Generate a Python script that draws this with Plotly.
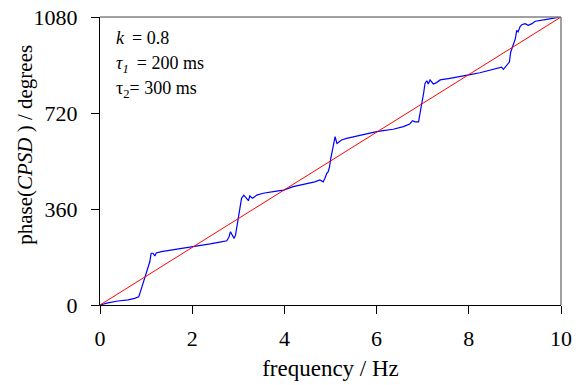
import plotly.graph_objects as go

freq = [0, 0.17, 0.39, 0.61, 0.75, 0.84, 0.86, 0.90, 0.93, 0.97, 1.0, 1.04, 1.08, 1.11, 1.15, 1.19, 1.22, 1.33, 1.55, 1.76, 1.98,
        2.17, 2.39, 2.60, 2.75, 2.80, 2.83, 2.87, 2.91, 2.94, 2.98, 3.0, 3.04, 3.07, 3.12, 3.17, 3.22, 3.25, 3.31, 3.40, 3.54, 3.76, 3.98,
        4.19, 4.48, 4.66, 4.77, 4.84, 4.88, 4.92, 4.95, 4.98, 5.0, 5.03, 5.06, 5.10, 5.14, 5.19, 5.24, 5.35, 5.50, 5.71, 6.0,
        6.14, 6.36, 6.58, 6.72, 6.78, 6.83, 6.91, 6.94, 6.98, 7.02, 7.05, 7.09, 7.12, 7.16, 7.23, 7.30, 7.38, 7.59, 7.81, 8.03,
        8.24, 8.46, 8.60, 8.71, 8.75, 8.82, 8.88, 8.91, 8.96, 9.01, 9.04, 9.07, 9.11, 9.15, 9.22, 9.29, 9.37, 9.44, 9.69, 9.98, 10.0]
phase = [0, 8, 15, 19, 25, 31, 41, 62, 81, 100, 119, 144, 162, 194, 194, 184, 195, 200, 206, 210, 216,
         221, 229, 236, 241, 256, 275, 262, 250, 262, 306, 337, 369, 400, 412, 400, 391, 409, 400, 412, 419, 425, 431,
         444, 454, 462, 469, 462, 475, 494, 500, 519, 544, 569, 594, 631, 606, 612, 619, 625, 631, 640, 650,
         654, 659, 669, 679, 691, 687, 687, 712, 756, 794, 831, 841, 829, 844, 829, 834, 844, 850, 856, 864,
         871, 880, 886, 892, 884, 899, 911, 949, 974, 999, 1030, 1024, 1043, 1051, 1055, 1049, 1055, 1064, 1071, 1077, 1080]

line_freq = [0, 10]
line_phase = [0, 1080]

x_ticks = [0, 2, 4, 6, 8, 10]
y_ticks = [0, 360, 720, 1080]

FONT = "Liberation Serif"

fig = go.Figure()
fig.add_trace(go.Scatter(x=freq, y=phase, mode="lines",
                         line=dict(color="#0000FF", width=1.2), showlegend=False))
fig.add_trace(go.Scatter(x=line_freq, y=line_phase, mode="lines",
                         line=dict(color="#FF0000", width=1), showlegend=False))

fig.update_layout(
    width=582, height=385,
    margin=dict(l=100, r=21, t=17, b=80, autoexpand=False),
    paper_bgcolor="white", plot_bgcolor="white",
    font=dict(family=FONT, size=22, color="black"),
    xaxis=dict(range=[0, 10], tickvals=x_ticks, showgrid=False, zeroline=False,
               showline=True, linecolor="black", linewidth=1,
               ticks="outside", ticklen=8, tickcolor="black",
               ticklabelstandoff=6, automargin=False, ticklabeloverflow="allow",
               tickfont=dict(family=FONT, size=22),
               title=dict(text="frequency / Hz", standoff=9, font=dict(family=FONT, size=23))),
    yaxis=dict(range=[0, 1080], tickvals=y_ticks, showgrid=False, zeroline=False,
               showline=True, linecolor="black", linewidth=1,
               ticks="outside", ticklen=8, tickcolor="black",
               ticklabelstandoff=9, automargin=False, ticklabeloverflow="allow",
               tickfont=dict(family=FONT, size=22)),
    shapes=[
        dict(type="line", xref="paper", yref="paper", x0=0, x1=1, y0=1, y1=1,
             line=dict(color="#808080", width=1.5)),
        dict(type="line", xref="paper", yref="paper", x0=1, x1=1, y0=0, y1=1,
             line=dict(color="#808080", width=1.5)),
    ],
)

# y-axis title placed as a rotated annotation (it sits above the plot centre in the reference)
fig.add_annotation(x=-0.1627, y=0.556, xref="paper", yref="paper",
                   text="phase(<i>CPSD</i> ) / degrees", textangle=-90, showarrow=False,
                   xanchor="center", yanchor="middle", font=dict(family=FONT, size=21, color="black"))

ann_texts = ["<i>k</i>\u2009 = 0.8", "<i>τ<sub>1</sub></i>\u2009 = 200 ms", "τ<sub>2</sub>= 300 ms"]
ann_y = [1003, 903, 810]
for t, yv in zip(ann_texts, ann_y):
    fig.add_annotation(x=0.3, y=yv, xref="x", yref="y", text=t, showarrow=False,
                       xanchor="left", yanchor="middle", font=dict(family=FONT, size=18, color="black"))

fig.write_html("out.html", config={"displayModeBar": False},
               post_script="document.body.style.margin='0';")
